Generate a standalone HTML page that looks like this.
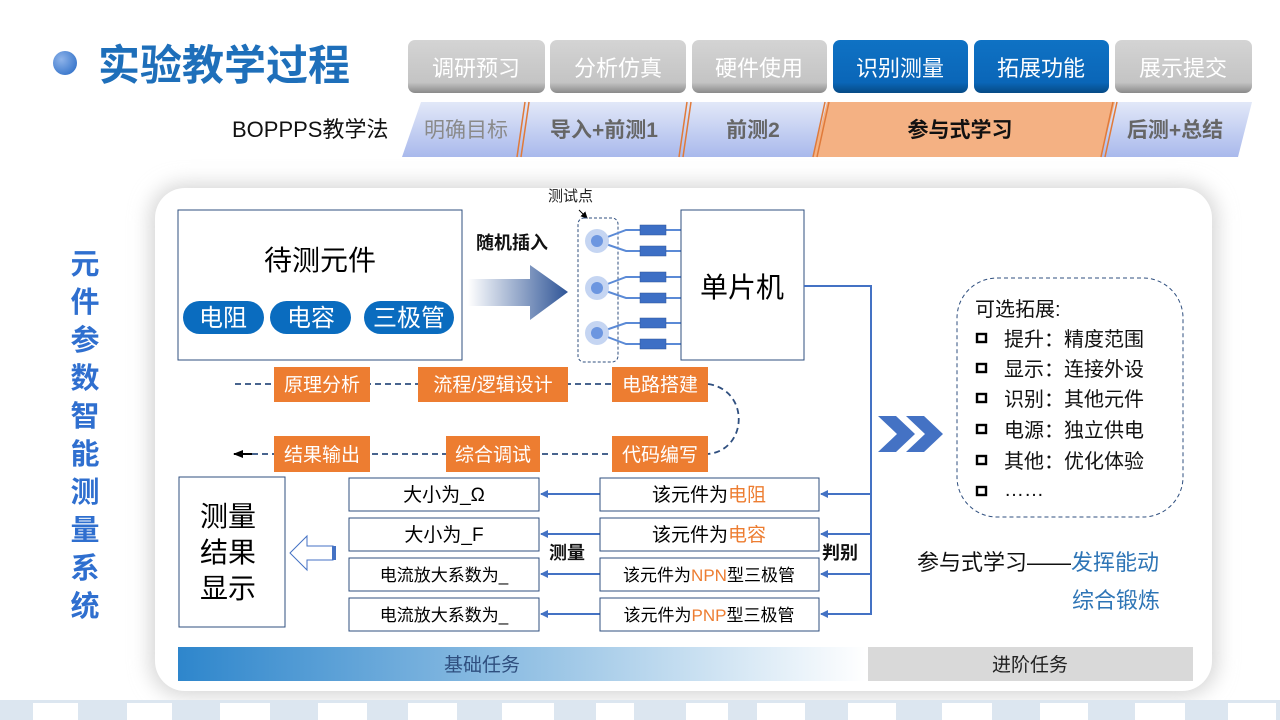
<!DOCTYPE html>
<html><head><meta charset="utf-8"><style>
html,body{margin:0;padding:0;background:#fff;}
svg{display:block;font-family:"Liberation Sans","Noto Sans CJK SC",sans-serif;}
</style></head><body>
<svg width="1280" height="720" viewBox="0 0 1280 720" xmlns="http://www.w3.org/2000/svg">
<defs>
<radialGradient id="dot" cx="0.35" cy="0.35" r="0.7"><stop offset="0" stop-color="#8fb4ea"/><stop offset="1" stop-color="#3b78cc"/></radialGradient>
<linearGradient id="gbtn" x1="0" y1="0" x2="0" y2="1"><stop offset="0" stop-color="#d4d4d4"/><stop offset="0.8" stop-color="#c4c4c4"/><stop offset="1" stop-color="#8a8a8a"/></linearGradient>
<linearGradient id="bbtn" x1="0" y1="0" x2="0" y2="1"><stop offset="0" stop-color="#0f72c4"/><stop offset="0.8" stop-color="#0a66b8"/><stop offset="1" stop-color="#064a85"/></linearGradient>
<linearGradient id="band" x1="0" y1="0" x2="0" y2="1"><stop offset="0" stop-color="#e2e8f8"/><stop offset="1" stop-color="#a9b9ec"/></linearGradient>
<linearGradient id="arr" x1="0" y1="0" x2="1" y2="0"><stop offset="0" stop-color="#fff"/><stop offset="1" stop-color="#2f5597"/></linearGradient>
<linearGradient id="base" x1="0" y1="0" x2="1" y2="0"><stop offset="0" stop-color="#2e86cc"/><stop offset="0.55" stop-color="#9cc6e6"/><stop offset="1" stop-color="#ffffff"/></linearGradient>
<filter id="sh" x="-10%" y="-10%" width="120%" height="120%"><feGaussianBlur stdDeviation="10"/></filter>
<marker id="ah" markerWidth="8" markerHeight="8" refX="7" refY="4" orient="auto" markerUnits="userSpaceOnUse"><path d="M0,0 L8,4 L0,8 Z" fill="#4472c4"/></marker>
<marker id="ahk" markerWidth="10" markerHeight="8" refX="9" refY="4" orient="auto" markerUnits="userSpaceOnUse"><path d="M0,0 L10,4 L0,8 Z" fill="#000"/></marker>
<marker id="ahs" markerWidth="7" markerHeight="7" refX="6" refY="3.5" orient="auto" markerUnits="userSpaceOnUse"><path d="M0,0 L7,3.5 L0,7 Z" fill="#000"/></marker>
</defs>

<!-- title -->
<circle cx="65" cy="63" r="12" fill="url(#dot)"/>
<text x="98" y="80" font-size="42" font-weight="bold" fill="#1e6fba">实验教学过程</text>

<!-- top buttons -->
<g font-size="22" fill="#fff" text-anchor="middle">
<rect x="408" y="40" width="137" height="53" rx="7" fill="url(#gbtn)"/><text x="476" y="76">调研预习</text>
<rect x="550" y="40" width="136" height="53" rx="7" fill="url(#gbtn)"/><text x="618" y="76">分析仿真</text>
<rect x="692" y="40" width="135" height="53" rx="7" fill="url(#gbtn)"/><text x="759" y="76">硬件使用</text>
<rect x="833" y="40" width="135" height="53" rx="7" fill="url(#bbtn)"/><text x="900" y="76">识别测量</text>
<rect x="974" y="40" width="135" height="53" rx="7" fill="url(#bbtn)"/><text x="1041" y="76">拓展功能</text>
<rect x="1115" y="40" width="137" height="53" rx="7" fill="url(#gbtn)"/><text x="1183" y="76">展示提交</text>
</g>

<!-- BOPPPS band -->
<text x="232" y="137" font-size="22" fill="#111">BOPPPS教学法</text>
<polygon points="421,102 1252,102 1238,157 402,157" fill="url(#band)"/>
<polygon points="827,102 1115,102 1101,157 813,157" fill="#f4b183"/>
<g stroke="#e07a3a" stroke-width="1.5">
<line x1="525" y1="102" x2="517" y2="157"/><line x1="529" y1="102" x2="521" y2="157"/>
<line x1="687" y1="102" x2="679" y2="157"/><line x1="691" y1="102" x2="683" y2="157"/>
<line x1="825" y1="102" x2="813" y2="157"/><line x1="829" y1="102" x2="817" y2="157"/>
<line x1="1113" y1="102" x2="1101" y2="157"/><line x1="1117" y1="102" x2="1105" y2="157"/>
</g>
<g font-size="21" text-anchor="middle">
<text x="466" y="137" fill="#8a8a8a">明确目标</text>
<text x="604" y="137" fill="#666" font-weight="bold">导入+前测1</text>
<text x="753" y="137" fill="#666" font-weight="bold">前测2</text>
<text x="960" y="137" fill="#111" font-weight="bold">参与式学习</text>
<text x="1175" y="137" fill="#666" font-weight="bold">后测+总结</text>
</g>

<!-- panel -->
<rect x="150" y="184" width="1067" height="512" rx="34" fill="#d6d6d6" filter="url(#sh)"/>
<rect x="155" y="188" width="1057" height="503" rx="30" fill="#fff"/>

<!-- vertical title -->
<g font-size="29" font-weight="bold" fill="#2f6fcf" text-anchor="middle">
<text x="85" y="274">元</text><text x="85" y="312">件</text><text x="85" y="350">参</text><text x="85" y="388">数</text><text x="85" y="426">智</text><text x="85" y="464">能</text><text x="85" y="502">测</text><text x="85" y="540">量</text><text x="85" y="578">系</text><text x="85" y="616">统</text>
</g>

<!-- 待测元件 -->
<rect x="178" y="210" width="284" height="150" fill="#fff" stroke="#2f4f7f" stroke-width="1"/>
<text x="320" y="270" font-size="28" text-anchor="middle" fill="#000">待测元件</text>
<g font-size="24" fill="#fff" text-anchor="middle">
<rect x="183" y="301" width="81" height="33" rx="16.5" fill="#0a6cbf"/><text x="223" y="326">电阻</text>
<rect x="270" y="301" width="81" height="33" rx="16.5" fill="#0a6cbf"/><text x="311" y="326">电容</text>
<rect x="364" y="301" width="90" height="33" rx="16.5" fill="#0a6cbf"/><text x="409" y="326">三极管</text>
</g>

<!-- arrow -->
<polygon points="468,279 530,279 530,265 568,292 530,320 530,306 468,306" fill="url(#arr)"/>
<text x="476" y="249" font-size="18" font-weight="bold" fill="#111">随机插入</text>
<text x="548" y="201" font-size="15" fill="#222">测试点</text>
<line x1="579" y1="210" x2="587" y2="218" stroke="#000" stroke-width="1" marker-end="url(#ahs)"/>
<rect x="578" y="218" width="40" height="144" rx="6" fill="none" stroke="#2f4f7f" stroke-dasharray="3,2"/>

<g stroke="#5b8ad6" stroke-width="2" fill="none">
<path d="M597,241 L626,230 L681,230 M597,241 L626,251 L681,251"/>
<path d="M597,288 L626,277 L681,277 M597,288 L626,298 L681,298"/>
<path d="M597,333 L626,323 L681,323 M597,333 L626,344 L681,344"/>
</g>
<g fill="#c5d5f2"><circle cx="597" cy="241" r="12"/><circle cx="597" cy="288" r="12"/><circle cx="597" cy="333" r="12"/></g>
<g fill="#6c96e0"><circle cx="597" cy="241" r="6"/><circle cx="597" cy="288" r="6"/><circle cx="597" cy="333" r="6"/></g>
<g fill="#3d6fc5" stroke="#2f5597" stroke-width="0.5">
<rect x="640" y="225" width="26" height="10"/><rect x="640" y="246" width="26" height="10"/>
<rect x="640" y="272" width="26" height="10"/><rect x="640" y="293" width="26" height="10"/>
<rect x="640" y="318" width="26" height="10"/><rect x="640" y="339" width="26" height="10"/>
</g>

<rect x="681" y="210" width="123" height="150" fill="#fff" stroke="#2f4f7f" stroke-width="1"/>
<text x="742" y="297" font-size="28" text-anchor="middle" fill="#000">单片机</text>

<!-- right connector -->
<g stroke="#4472c4" stroke-width="2" fill="none">
<polyline points="804,286 871,286 871,615"/>
<line x1="871" y1="494" x2="821" y2="494" marker-end="url(#ah)"/>
<line x1="871" y1="534" x2="821" y2="534" marker-end="url(#ah)"/>
<line x1="871" y1="574" x2="821" y2="574" marker-end="url(#ah)"/>
<line x1="871" y1="614" x2="821" y2="614" marker-end="url(#ah)"/>
<line x1="600" y1="494" x2="541" y2="494" marker-end="url(#ah)"/>
<line x1="600" y1="534" x2="541" y2="534" marker-end="url(#ah)"/>
<line x1="600" y1="574" x2="541" y2="574" marker-end="url(#ah)"/>
<line x1="600" y1="614" x2="541" y2="614" marker-end="url(#ah)"/>
</g>

<!-- dashed flow -->
<g stroke="#2f4f7f" stroke-width="1.8" fill="none" stroke-dasharray="6,4">
<line x1="235" y1="384" x2="708" y2="384"/>
<path d="M708,384 C750,390 748,450 708,454"/>
<line x1="708" y1="454" x2="246" y2="454"/>
</g>
<line x1="252" y1="454" x2="234" y2="454" stroke="#000" stroke-width="2" marker-end="url(#ahk)"/>
<g fill="#ed7d31">
<rect x="274" y="367" width="96" height="35"/><rect x="418" y="367" width="150" height="35"/><rect x="612" y="367" width="96" height="35"/>
<rect x="274" y="436" width="96" height="36"/><rect x="446" y="436" width="94" height="36"/><rect x="612" y="436" width="96" height="36"/>
</g>
<g font-size="19" fill="#fff" text-anchor="middle">
<text x="322" y="391">原理分析</text><text x="493" y="391">流程/逻辑设计</text><text x="660" y="391">电路搭建</text>
<text x="322" y="461">结果输出</text><text x="493" y="461">综合调试</text><text x="660" y="461">代码编写</text>
</g>

<!-- result boxes -->
<rect x="179" y="477" width="106" height="150" fill="#fff" stroke="#2f4f7f"/>
<g font-size="28" fill="#000"><text x="200" y="526">测量</text><text x="200" y="562">结果</text><text x="200" y="598">显示</text></g>
<polygon points="290,553 307,536 307,546 333,546 333,560 307,560 307,570" fill="#fff" stroke="#4472c4" stroke-width="1"/>
<rect x="332" y="546" width="4" height="14" fill="#4472c4"/>

<g fill="#fff" stroke="#2f4f7f" stroke-width="1">
<rect x="349" y="478" width="190" height="33"/><rect x="349" y="518" width="190" height="33"/><rect x="349" y="558" width="190" height="33"/><rect x="349" y="598" width="190" height="33"/>
<rect x="600" y="478" width="219" height="33"/><rect x="600" y="518" width="219" height="33"/><rect x="600" y="558" width="219" height="33"/><rect x="600" y="598" width="219" height="33"/>
</g>
<g font-size="19" fill="#000" text-anchor="middle">
<text x="444" y="501">大小为_Ω</text><text x="444" y="541">大小为_F</text>
<text x="444" y="581" font-size="17">电流放大系数为_</text><text x="444" y="621" font-size="17">电流放大系数为_</text>
<text x="709" y="501">该元件为<tspan fill="#ed7d31">电阻</tspan></text>
<text x="709" y="541">该元件为<tspan fill="#ed7d31">电容</tspan></text>
<text x="709" y="581" font-size="17">该元件为<tspan fill="#ed7d31">NPN</tspan>型三极管</text>
<text x="709" y="621" font-size="17">该元件为<tspan fill="#ed7d31">PNP</tspan>型三极管</text>
</g>
<text x="549" y="559" font-size="18" font-weight="bold" fill="#111">测量</text>
<text x="822" y="559" font-size="18" font-weight="bold" fill="#111">判别</text>

<!-- chevrons -->
<polygon points="878,416 896,416 915,434 896,452 878,452 897,434" fill="#4472c4"/>
<polygon points="906,416 924,416 943,434 924,452 906,452 925,434" fill="#4472c4"/>

<!-- extension box -->
<rect x="957" y="278" width="226" height="239" rx="40" fill="none" stroke="#2f4f7f" stroke-dasharray="4,3"/>
<g font-size="20" fill="#111">
<text x="975" y="316">可选拓展:</text>
<text x="1004" y="346">提升：精度范围</text>
<text x="1004" y="376">显示：连接外设</text>
<text x="1004" y="406">识别：其他元件</text>
<text x="1004" y="437">电源：独立供电</text>
<text x="1004" y="468">其他：优化体验</text>
<text x="1004" y="496">……</text>
</g>
<g fill="none" stroke="#000" stroke-width="2.4">
<rect x="977" y="334" width="9" height="8"/><rect x="977" y="364" width="9" height="8"/><rect x="977" y="394" width="9" height="8"/>
<rect x="977" y="425" width="9" height="8"/><rect x="977" y="456" width="9" height="8"/><rect x="977" y="487" width="9" height="8"/>
</g>
<text x="917" y="570" font-size="22" fill="#111">参与式学习——<tspan fill="#2e75b6">发挥能动</tspan></text>
<text x="1072" y="608" font-size="22" fill="#2e75b6">综合锻炼</text>

<!-- bottom bars -->
<rect x="178" y="647" width="688" height="34" fill="url(#base)"/>
<rect x="868" y="647" width="325" height="34" fill="#d9d9d9"/>
<text x="482" y="671" font-size="19" fill="#2f4f7f" text-anchor="middle">基础任务</text>
<text x="1030" y="671" font-size="19" fill="#222" text-anchor="middle">进阶任务</text>

<!-- footer strip -->
<rect x="0" y="700" width="1280" height="20" fill="#dce6f0"/>
<g fill="#fff">
<rect x="33" y="703" width="45" height="17"/><rect x="127" y="703" width="45" height="17"/><rect x="220" y="703" width="50" height="17"/>
<rect x="318" y="703" width="49" height="17"/><rect x="408" y="703" width="49" height="17"/><rect x="502" y="703" width="52" height="17"/>
<rect x="596" y="703" width="38" height="17"/><rect x="686" y="703" width="42" height="17"/><rect x="757" y="703" width="48" height="17"/>
<rect x="848" y="703" width="48" height="17"/><rect x="942" y="703" width="50" height="17"/><rect x="1040" y="703" width="48" height="17"/>
<rect x="1135" y="703" width="50" height="17"/><rect x="1228" y="703" width="48" height="17"/>
</g>
</svg>
</body></html>
